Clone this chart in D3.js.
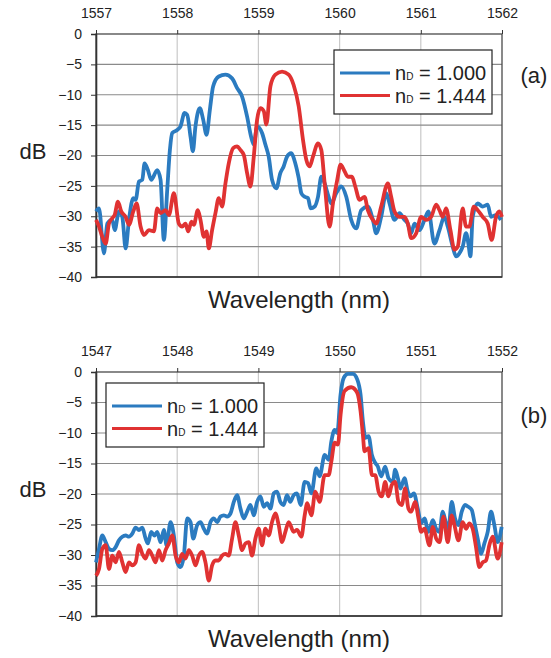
<!DOCTYPE html>
<html>
<head>
<meta charset="utf-8">
<script src="https://cdn.jsdelivr.net/npm/d3@7"></script>
<style>
  body { margin: 0; background: #fff; }
  svg { font-family: Arial, "Liberation Sans", sans-serif; }
  .axis text { font-size: 14px; fill: #222; }
  .axis path, .axis line { stroke: #333; }
</style>
</head>
<body>
<div id="chart"></div>
<script>
// ---- data (wavelength nm, transmission dB) ----
const yTicks = [0, -5, -10, -15, -20, -25, -30, -35, -40];
const seriesNames = ["1.000", "1.444"];

// panel (a)
const xTicksA = [1557, 1558, 1559, 1560, 1561, 1562];
const blueA = [
  [1557.000,-29.2],[1557.037,-28.7],[1557.098,-36.1],[1557.139,-31.2],[1557.201,-30.6],[1557.230,-32.3],
  [1557.283,-29.2],[1557.324,-30.1],[1557.365,-35.3],[1557.406,-30.6],[1557.459,-27.0],[1557.488,-27.3],
  [1557.529,-24.3],[1557.570,-24.0],[1557.598,-21.3],[1557.639,-22.4],[1557.680,-24.0],[1557.754,-22.4],
  [1557.795,-24.0],[1557.836,-33.9],[1557.877,-25.7],[1557.910,-19.1],[1557.939,-16.3],[1558.000,-15.8],
  [1558.041,-15.2],[1558.090,-13.0],[1558.123,-13.3],[1558.164,-16.9],[1558.193,-19.3],[1558.225,-15.2],
  [1558.279,-12.2],[1558.320,-14.1],[1558.361,-16.6],[1558.402,-12.5],[1558.443,-8.6],[1558.512,-7.0],
  [1558.594,-6.7],[1558.676,-7.3],[1558.738,-8.9],[1558.799,-10.3],[1558.861,-13.6],[1558.910,-16.9],
  [1558.943,-18.2],[1558.984,-15.2],[1559.045,-16.3],[1559.086,-18.2],[1559.127,-20.2],[1559.168,-24.0],
  [1559.221,-25.4],[1559.270,-22.9],[1559.311,-21.8],[1559.352,-20.2],[1559.402,-19.6],[1559.455,-21.3],
  [1559.496,-23.7],[1559.529,-26.2],[1559.570,-26.8],[1559.611,-27.0],[1559.643,-28.7],[1559.693,-28.4],
  [1559.734,-26.8],[1559.775,-23.5],[1559.816,-24.6],[1559.865,-26.8],[1559.898,-27.9],[1559.959,-26.2],
  [1560.020,-25.1],[1560.082,-26.8],[1560.143,-30.6],[1560.205,-32.0],[1560.266,-29.0],[1560.348,-28.4],
  [1560.410,-30.6],[1560.451,-32.8],[1560.512,-30.1],[1560.574,-26.2],[1560.615,-27.9],[1560.676,-30.6],
  [1560.738,-29.5],[1560.799,-30.6],[1560.840,-31.2],[1560.881,-32.8],[1560.922,-31.2],[1560.984,-32.3],
  [1561.045,-30.6],[1561.094,-29.2],[1561.168,-34.5],[1561.230,-32.3],[1561.291,-30.1],[1561.332,-31.7],
  [1561.393,-35.0],[1561.434,-36.6],[1561.475,-36.1],[1561.516,-35.0],[1561.557,-32.8],[1561.586,-34.5],
  [1561.611,-36.6],[1561.639,-30.1],[1561.701,-27.9],[1561.762,-28.4],[1561.824,-28.1],[1561.865,-30.1],
  [1561.926,-29.8],[1561.988,-30.6]
];
const redA = [
  [1557.000,-30.6],[1557.037,-31.7],[1557.078,-33.4],[1557.119,-34.5],[1557.160,-31.2],[1557.201,-30.3],
  [1557.230,-29.8],[1557.270,-27.6],[1557.311,-29.2],[1557.365,-30.1],[1557.406,-31.4],[1557.459,-29.2],
  [1557.500,-27.9],[1557.549,-31.7],[1557.590,-33.1],[1557.652,-32.3],[1557.713,-32.5],[1557.754,-28.7],
  [1557.795,-29.5],[1557.857,-29.0],[1557.898,-29.8],[1557.959,-26.2],[1558.020,-31.2],[1558.061,-31.7],
  [1558.102,-31.2],[1558.135,-32.5],[1558.176,-30.9],[1558.205,-31.4],[1558.254,-29.0],[1558.287,-30.6],
  [1558.328,-33.4],[1558.361,-32.5],[1558.389,-35.3],[1558.430,-32.3],[1558.471,-29.5],[1558.512,-27.0],
  [1558.553,-28.4],[1558.594,-24.6],[1558.635,-21.3],[1558.689,-18.8],[1558.738,-18.5],[1558.779,-19.1],
  [1558.820,-19.9],[1558.861,-22.9],[1558.902,-25.1],[1558.943,-20.2],[1558.984,-14.1],[1559.025,-12.2],
  [1559.066,-12.7],[1559.098,-14.9],[1559.148,-8.6],[1559.209,-6.7],[1559.291,-6.2],[1559.373,-6.7],
  [1559.434,-8.4],[1559.496,-11.9],[1559.549,-17.4],[1559.590,-20.7],[1559.631,-21.8],[1559.672,-20.2],
  [1559.734,-18.0],[1559.775,-19.1],[1559.816,-24.6],[1559.877,-31.7],[1559.918,-27.9],[1559.971,-24.0],
  [1560.012,-21.5],[1560.061,-22.6],[1560.102,-23.5],[1560.152,-23.5],[1560.193,-25.1],[1560.246,-27.3],
  [1560.307,-26.8],[1560.348,-29.0],[1560.410,-30.6],[1560.451,-31.2],[1560.512,-28.4],[1560.594,-24.6],
  [1560.635,-26.8],[1560.676,-29.2],[1560.738,-30.1],[1560.799,-30.1],[1560.840,-31.2],[1560.881,-33.6],
  [1560.943,-32.8],[1561.004,-30.1],[1561.066,-30.6],[1561.127,-30.1],[1561.189,-28.1],[1561.230,-29.0],
  [1561.270,-30.1],[1561.311,-28.7],[1561.365,-32.3],[1561.414,-35.5],[1561.455,-35.0],[1561.516,-28.7],
  [1561.557,-31.7],[1561.598,-31.7],[1561.652,-28.4],[1561.701,-29.0],[1561.762,-30.1],[1561.824,-31.2],
  [1561.873,-33.9],[1561.926,-30.1],[1561.967,-29.2],[1562.000,-30.1]
];

// panel (b)
const xTicksB = [1547, 1548, 1549, 1550, 1551, 1552];
const blueB = [
  [1547.000,-31.2],[1547.037,-29.0],[1547.078,-26.8],[1547.119,-27.9],[1547.160,-29.0],[1547.201,-29.2],
  [1547.242,-28.7],[1547.283,-27.6],[1547.324,-27.0],[1547.365,-26.8],[1547.406,-27.0],[1547.447,-26.5],
  [1547.488,-25.5],[1547.529,-25.9],[1547.570,-25.5],[1547.611,-27.3],[1547.639,-28.1],[1547.680,-26.2],
  [1547.721,-26.8],[1547.754,-26.2],[1547.795,-27.9],[1547.836,-25.9],[1547.869,-28.4],[1547.918,-24.6],
  [1547.959,-26.8],[1548.000,-31.2],[1548.041,-32.0],[1548.082,-30.1],[1548.123,-24.0],[1548.164,-24.6],
  [1548.197,-27.3],[1548.246,-25.1],[1548.287,-24.6],[1548.328,-25.7],[1548.369,-26.5],[1548.410,-24.6],
  [1548.451,-24.0],[1548.492,-24.6],[1548.533,-23.7],[1548.574,-23.5],[1548.615,-23.7],[1548.656,-23.2],
  [1548.697,-21.3],[1548.738,-20.2],[1548.779,-22.4],[1548.820,-24.0],[1548.861,-22.9],[1548.902,-21.8],
  [1548.943,-23.5],[1548.984,-21.3],[1549.025,-20.4],[1549.066,-22.1],[1549.107,-21.5],[1549.148,-22.4],
  [1549.189,-19.9],[1549.230,-19.6],[1549.270,-21.3],[1549.311,-21.8],[1549.352,-20.2],[1549.393,-21.3],
  [1549.434,-20.2],[1549.475,-19.9],[1549.520,-21.8],[1549.570,-18.0],[1549.611,-18.2],[1549.652,-19.9],
  [1549.713,-15.8],[1549.754,-17.1],[1549.816,-13.6],[1549.865,-14.4],[1549.898,-11.4],[1549.939,-9.5],
  [1549.971,-10.0],[1550.012,-3.7],[1550.053,-0.9],[1550.102,-0.3],[1550.164,-0.3],[1550.217,-1.2],
  [1550.258,-3.7],[1550.287,-8.1],[1550.320,-10.8],[1550.357,-10.5],[1550.398,-13.6],[1550.439,-14.9],
  [1550.471,-15.5],[1550.512,-17.1],[1550.561,-15.5],[1550.602,-17.4],[1550.656,-18.0],[1550.684,-16.0],
  [1550.717,-17.4],[1550.750,-19.1],[1550.799,-17.4],[1550.840,-19.6],[1550.873,-20.4],[1550.914,-19.9],
  [1550.963,-22.4],[1551.004,-24.8],[1551.045,-24.0],[1551.094,-26.2],[1551.148,-24.3],[1551.189,-25.7],
  [1551.230,-26.2],[1551.270,-22.9],[1551.311,-24.8],[1551.340,-25.7],[1551.381,-21.3],[1551.422,-24.0],
  [1551.463,-25.1],[1551.504,-22.9],[1551.545,-21.8],[1551.586,-22.1],[1551.627,-22.6],[1551.660,-24.6],
  [1551.701,-27.3],[1551.742,-29.8],[1551.783,-28.1],[1551.824,-26.2],[1551.865,-22.9],[1551.906,-25.1],
  [1551.947,-27.9],[1551.996,-25.4]
];
const redB = [
  [1547.000,-33.4],[1547.037,-32.3],[1547.078,-29.0],[1547.119,-28.4],[1547.160,-32.3],[1547.201,-30.1],
  [1547.242,-31.2],[1547.283,-29.5],[1547.324,-31.2],[1547.365,-32.8],[1547.406,-31.2],[1547.447,-31.7],
  [1547.488,-31.2],[1547.529,-28.4],[1547.570,-29.8],[1547.611,-30.6],[1547.652,-29.2],[1547.693,-30.1],
  [1547.734,-31.2],[1547.775,-29.2],[1547.816,-30.9],[1547.857,-29.2],[1547.898,-28.1],[1547.939,-26.8],
  [1547.980,-30.1],[1548.020,-31.2],[1548.061,-29.8],[1548.102,-30.6],[1548.143,-29.2],[1548.184,-30.1],
  [1548.225,-31.7],[1548.266,-30.1],[1548.307,-29.5],[1548.348,-31.2],[1548.389,-34.2],[1548.430,-31.7],
  [1548.471,-30.9],[1548.512,-30.9],[1548.553,-30.1],[1548.594,-29.8],[1548.635,-30.1],[1548.676,-27.3],
  [1548.717,-24.6],[1548.758,-26.8],[1548.799,-29.2],[1548.840,-28.1],[1548.881,-27.9],[1548.922,-30.1],
  [1548.963,-27.3],[1549.004,-25.7],[1549.045,-28.4],[1549.086,-25.7],[1549.127,-26.8],[1549.168,-24.6],
  [1549.209,-23.2],[1549.250,-25.1],[1549.291,-27.9],[1549.332,-26.2],[1549.373,-24.6],[1549.434,-26.2],
  [1549.475,-25.9],[1549.529,-27.0],[1549.570,-23.5],[1549.602,-21.5],[1549.652,-23.5],[1549.701,-19.6],
  [1549.754,-21.3],[1549.816,-16.9],[1549.865,-16.9],[1549.898,-14.7],[1549.939,-11.6],[1549.980,-11.9],
  [1550.012,-7.0],[1550.061,-3.1],[1550.143,-2.5],[1550.217,-3.4],[1550.258,-6.4],[1550.287,-10.3],
  [1550.307,-13.0],[1550.357,-12.5],[1550.398,-16.9],[1550.439,-16.9],[1550.480,-19.6],[1550.520,-20.4],
  [1550.561,-18.0],[1550.602,-20.4],[1550.643,-18.5],[1550.684,-18.0],[1550.725,-21.3],[1550.766,-21.8],
  [1550.807,-19.1],[1550.848,-22.4],[1550.881,-22.9],[1550.930,-21.3],[1550.971,-24.0],[1551.004,-26.2],
  [1551.045,-25.7],[1551.107,-28.4],[1551.148,-25.4],[1551.189,-27.3],[1551.230,-27.9],[1551.279,-23.7],
  [1551.332,-27.9],[1551.381,-23.5],[1551.414,-25.1],[1551.463,-27.6],[1551.516,-24.6],[1551.557,-25.7],
  [1551.598,-24.8],[1551.639,-25.7],[1551.680,-28.7],[1551.721,-32.0],[1551.762,-31.2],[1551.803,-30.9],
  [1551.844,-28.4],[1551.885,-27.0],[1551.947,-30.6],[1551.996,-27.9]
];

const colors = ["#2b7bc0", "#e03232"];

const svg = d3.select("#chart").append("svg")
  .attr("width", 551)
  .attr("height", 658);

function drawPanel(p) {
  const g = svg.append("g").attr("transform", `translate(${p.left},${p.top})`);
  const w = p.width, h = p.height;

  const x = d3.scaleLinear().domain(d3.extent(p.xTicks)).range([0, w]);
  const y = d3.scaleLinear().domain([-40, 0]).range([h, 0]);

  // grid
  g.append("g").selectAll("line")
    .data(p.xTicks.slice(1, -1))
    .join("line")
    .attr("x1", d => x(d)).attr("x2", d => x(d))
    .attr("y1", 0).attr("y2", h)
    .attr("stroke", "#c9c9c9").attr("stroke-width", 1.2);
  g.append("g").selectAll("line")
    .data(yTicks.slice(1, -1))
    .join("line")
    .attr("x1", 0).attr("x2", w)
    .attr("y1", d => y(d)).attr("y2", d => y(d))
    .attr("stroke", "#8a8a8a").attr("stroke-width", 1.2);

  // frame
  g.append("rect")
    .attr("width", w).attr("height", h)
    .attr("fill", "none").attr("stroke", "#4a4a4a").attr("stroke-width", 1.3);

  // axes
  g.append("g").attr("class", "axis")
    .call(d3.axisLeft(y).tickValues(yTicks).tickSize(5).tickPadding(9).tickFormat(d3.format("d")))
    .call(s => s.select(".domain").attr("stroke-width", 1.6));
  g.append("g").attr("class", "axis")
    .call(d3.axisTop(x).tickValues(p.xTicks).tickSize(4).tickPadding(12).tickFormat(d3.format("d")))
    .call(s => s.select(".domain").remove());
  g.append("line")
    .attr("x1", 0).attr("x2", w).attr("y1", h).attr("y2", h)
    .attr("stroke", "#333").attr("stroke-width", 1.6);

  // curves
  const line = d3.line()
    .x(d => x(d[0]))
    .y(d => y(d[1]))
    .curve(d3.curveMonotoneX);

  [p.blue, p.red].forEach((s, i) => {
    g.append("path")
      .datum(s)
      .attr("fill", "none")
      .attr("stroke", colors[i])
      .attr("stroke-width", 3.8)
      .attr("stroke-linejoin", "round")
      .attr("d", line);
  });

  // legend
  const lg = g.append("g").attr("transform", `translate(${p.legend[0]},${p.legend[1]})`);
  lg.append("rect")
    .attr("width", 158).attr("height", 64)
    .attr("fill", "#fff").attr("stroke", "#222").attr("stroke-width", 1.2);
  seriesNames.forEach((name, i) => {
    const yy = 23 + i * 22.5;
    lg.append("line")
      .attr("x1", 6).attr("x2", 56)
      .attr("y1", yy).attr("y2", yy)
      .attr("stroke", colors[i]).attr("stroke-width", 3.2);
    const t = lg.append("text")
      .attr("x", 61).attr("y", yy + 7)
      .attr("font-size", 20).attr("fill", "#222");
    t.append("tspan").text("n");
    t.append("tspan").attr("font-size", 10).text("D");
    t.append("tspan").text(" = " + name);
  });

  // labels
  svg.append("text")
    .attr("x", 33).attr("y", p.top + h / 2 + 3)
    .attr("text-anchor", "middle")
    .attr("font-size", 22).attr("fill", "#222")
    .text("dB");
  svg.append("text")
    .attr("x", p.left + w / 2).attr("y", p.top + h + 31)
    .attr("text-anchor", "middle")
    .attr("font-size", 24).attr("fill", "#222")
    .text("Wavelength (nm)");
  svg.append("text")
    .attr("x", 534).attr("y", p.tag)
    .attr("text-anchor", "middle")
    .attr("font-size", 22).attr("fill", "#222")
    .text(p.label);
}

drawPanel({ left: 96, top: 34, width: 406, height: 243, xTicks: xTicksA,
  blue: blueA, red: redA, legend: [238, 16], label: "(a)", tag: 83 });
drawPanel({ left: 96, top: 372, width: 406, height: 244, xTicks: xTicksB,
  blue: blueB, red: redB, legend: [10, 11], label: "(b)", tag: 423 });
</script>
</body>
</html>
